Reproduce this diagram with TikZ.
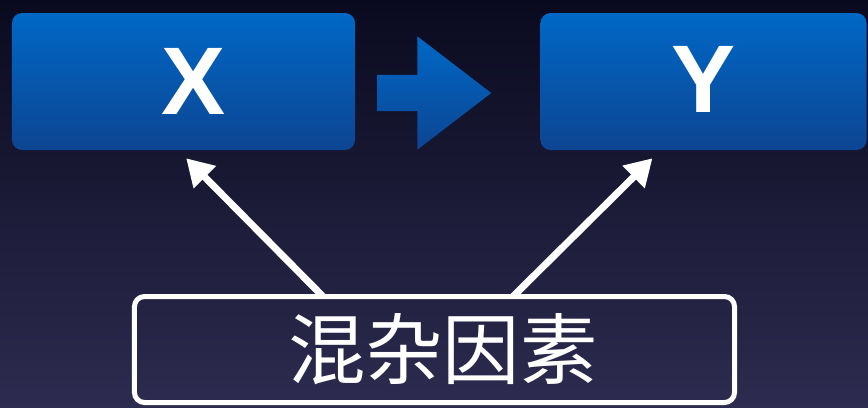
\documentclass[tikz,border=0pt]{standalone}
\usepackage{fontspec}
\setmainfont{Liberation Sans}
\newfontfamily\cjkfont{Noto Sans CJK SC}
\usepackage{tikz}
\usetikzlibrary{arrows.meta,positioning,shapes.arrows}
\definecolor{bgtop}{HTML}{0A0A1F}
\definecolor{bgbot}{HTML}{2D2B4F}
\definecolor{boxtop}{HTML}{0068C6}
\definecolor{boxbot}{HTML}{0D4592}

\begin{document}
\begin{tikzpicture}[x=0.03cm,y=-0.03cm,
  bluebox/.style={rounded corners=0.3cm,top color=boxtop,bottom color=boxbot,
    minimum height=4.11cm,inner sep=0pt,text=white,
    font=\fontsize{82}{82}\selectfont\bfseries},
  confbox/.style={draw=white,line width=0.15cm,rounded corners=0.3cm,
    minimum width=18cm,minimum height=3.18cm,inner sep=0pt,text=white,
    font=\cjkfont\fontsize{66}{66}\selectfont},
  link/.style={draw=white,line width=0.21cm,-{Triangle[length=0.8cm,width=0.9cm]}}]
\shade[top color=bgtop,bottom color=bgbot] (0,0) rectangle (868,407);
\useasboundingbox (0,0) rectangle (868,407);

\node[bluebox,minimum width=10.29cm] (x) at (183.5,81.5) {\hspace{0.6cm}\raisebox{-0.2cm}{X}};
\node[bluebox,minimum width=9.78cm] (y) [right=5.55cm of x] {\raisebox{0.1cm}{Y}};
\node[confbox] (conf) at (434.5,349.5) {\hspace{0.5cm}\raisebox{-0.15cm}{混杂因素}};

% block arrow X -> Y
\node[single arrow,top color=boxtop,bottom color=boxbot,inner xsep=0pt,inner ysep=0.54cm,
  minimum height=3.42cm,single arrow head extend=1.155cm,
  single arrow tip angle=75,anchor=tail] (cause) at (377,93) {};

\draw[link] ([xshift=-3.35cm,yshift=-0.07cm]conf.north) -- ([xshift=0.08cm,yshift=-0.24cm]x.south);
\draw[link] ([xshift=2.36cm,yshift=-0.07cm]conf.north) -- ([xshift=-1.53cm,yshift=-0.24cm]y.south);
\end{tikzpicture}
\end{document}
